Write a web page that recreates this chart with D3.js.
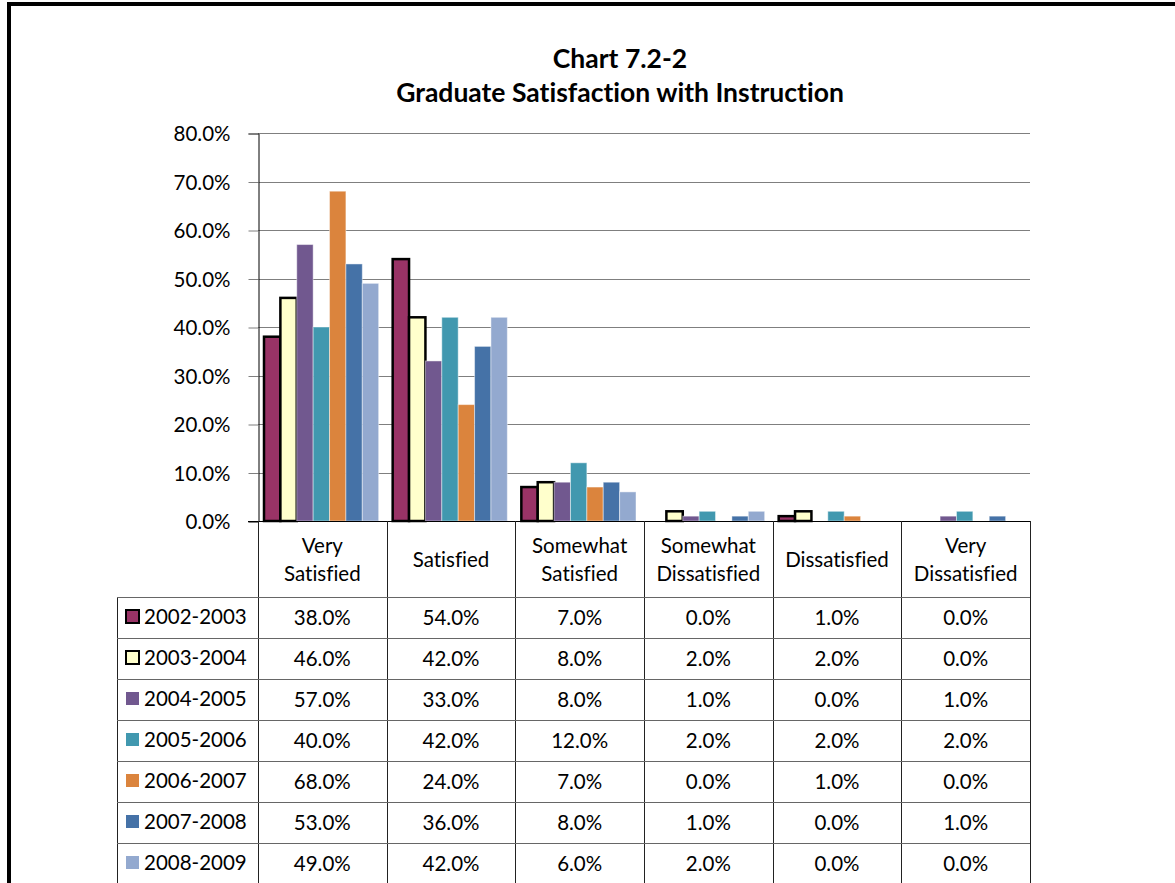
<!DOCTYPE html>
<html lang="en">
<head>
<meta charset="utf-8">
<script src="https://d3js.org/d3.v7.min.js"></script>
<style>
body { margin: 0; background: #fff; }
text { font-family: Lato, "Open Sans", sans-serif; fill: #000; font-variant-ligatures: none; }
.title { font-weight: bold; font-size: 26.5px; }
.tick-label, .cell, .head, .leg { font-size: 20.5px; }
</style>
</head>
<body>
<svg width="1175" height="883"></svg>
<script>

// categories along the x axis
var categories = ["Very Satisfied", "Satisfied", "Somewhat Satisfied",
                  "Somewhat Dissatisfied", "Dissatisfied", "Very Dissatisfied"];
var headLines = [["Very", "Satisfied"], ["Satisfied"], ["Somewhat", "Satisfied"],
                 ["Somewhat", "Dissatisfied"], ["Dissatisfied"], ["Very", "Dissatisfied"]];

// one series per school year (percent)
var years = ["2002-2003", "2003-2004", "2004-2005", "2005-2006", "2006-2007", "2007-2008", "2008-2009"];
var v0203 = [38, 54, 7, 0, 1, 0];
var v0304 = [46, 42, 8, 2, 2, 0];
var v0405 = [57, 33, 8, 1, 0, 1];
var v0506 = [40, 42, 12, 2, 2, 2];
var v0607 = [68, 24, 7, 0, 1, 0];
var v0708 = [53, 36, 8, 1, 0, 1];
var v0809 = [49, 42, 6, 2, 0, 0];
var colors = ["#993366", "#ffffcc", "#71588f", "#4198af", "#db843d", "#4572a7", "#93a9cf"];
var yTicks = [0, 10, 20, 30, 40, 50, 60, 70, 80];

var series = [v0203, v0304, v0405, v0506, v0607, v0708, v0809];

var svg = d3.select("svg");

// outer frame (runs off the page at right / bottom)
svg.append("rect")
    .attr("x", 9).attr("y", 4).attr("width", 1200).attr("height", 920)
    .attr("fill", "none").attr("stroke", "#000").attr("stroke-width", 4);

var plotLeft = 258, plotRight = 1030, plotTop = 133, base = 521;

var x0 = d3.scaleBand().domain(categories).range([plotLeft, plotRight]).padding(0);
var x1 = d3.scaleBand().domain(years).range([6, x0.bandwidth() - 8]).padding(0);
var y = d3.scaleLinear().domain([0, 80]).range([base, plotTop]);

// title
svg.append("text").attr("class", "title").attr("x", 620).attr("y", 68)
    .attr("text-anchor", "middle").text("Chart 7.2-2");
svg.append("text").attr("class", "title").attr("x", 620).attr("y", 102)
    .attr("text-anchor", "middle").text("Graduate Satisfaction with Instruction");

// gridlines
svg.append("g").selectAll("line").data(yTicks.slice(1)).join("line")
    .attr("x1", plotLeft).attr("x2", plotRight)
    .attr("y1", function(d) { return Math.round(y(d)) + 0.5; })
    .attr("y2", function(d) { return Math.round(y(d)) + 0.5; })
    .attr("stroke", "#7f7f7f").attr("stroke-width", 1);

// y axis
var yAxis = svg.append("g").attr("transform", "translate(" + (plotLeft + 0.5) + ",0.5)")
    .call(d3.axisLeft(y).tickValues(yTicks).tickSize(10).tickPadding(18)
      .tickFormat(function(d) { return d.toFixed(1) + "%"; }));
yAxis.select(".domain").attr("stroke", "#000");
yAxis.selectAll(".tick line").attr("stroke", "#7f7f7f");
yAxis.selectAll("text").attr("class", "tick-label").attr("font-size", null)
    .attr("font-family", null).attr("dy", "0.35em");

// bars
var groups = svg.append("g").selectAll("g").data(series).join("g")
    .attr("fill", function(d, i) { return colors[i]; });

groups.selectAll("rect")
    .data(function(d, i) { return d.map(function(v, j) { return { s: i, c: j, v: v }; }); })
    .join("rect")
    .attr("x", function(d) { return x0(categories[d.c]) + x1(years[d.s]); })
    .attr("width", x1.bandwidth())
    .attr("y", function(d) { return y(d.v); })
    .attr("height", function(d) { return base - y(d.v); })
    .attr("stroke", function(d) { return d.s < 2 ? "#000" : "rgba(255,255,255,0.45)"; })
    .attr("stroke-width", function(d) { return d.s < 2 ? 2.5 : 1; })
    .style("display", function(d) { return d.v === 0 && d.s >= 2 ? "none" : null; });

// data table below the plot
var headBottom = 597, rowH = 41, legLeft = 117;
var tbl = svg.append("g");

// baseline
tbl.append("line").attr("x1", 248).attr("x2", plotRight).attr("y1", base + 0.5).attr("y2", base + 0.5)
    .attr("stroke", "#000");

// vertical lines
var vx = categories.map(function(c) { return x0(c); }).concat([plotRight]);
tbl.selectAll(".v").data(vx).join("line")
    .attr("x1", function(d) { return Math.round(d) + 0.5; })
    .attr("x2", function(d) { return Math.round(d) + 0.5; })
    .attr("y1", base).attr("y2", 883)
    .attr("stroke", "#222");
tbl.append("line").attr("x1", legLeft + 0.5).attr("x2", legLeft + 0.5)
    .attr("y1", headBottom).attr("y2", 883).attr("stroke", "#222");

// horizontal lines
tbl.selectAll(".h").data(d3.range(years.length)).join("line")
    .attr("x1", legLeft).attr("x2", plotRight)
    .attr("y1", function(i) { return headBottom + i * rowH + 0.5; })
    .attr("y2", function(i) { return headBottom + i * rowH + 0.5; })
    .attr("stroke", "#666");

// header labels
headLines.forEach(function(lines, j) {
  var cx = x0(categories[j]) + x0.bandwidth() / 2;
  var t = tbl.append("text").attr("class", "head").attr("text-anchor", "middle")
      .attr("x", cx).attr("y", lines.length === 1 ? 567 : 553);
  lines.forEach(function(l, k) {
    t.append("tspan").attr("x", cx).attr("dy", k === 0 ? 0 : 28).text(l);
  });
});

// legend cells + values
years.forEach(function(yr, i) {
  var ty = headBottom + i * rowH;
  tbl.append("rect")
      .attr("x", 126).attr("y", ty + 13).attr("width", 13).attr("height", 13)
      .attr("fill", colors[i])
      .attr("stroke", i < 2 ? "#000" : "none").attr("stroke-width", 2);
  tbl.append("text").attr("class", "leg").attr("x", 144).attr("y", ty + 27).text(yr);
  series[i].forEach(function(v, j) {
    tbl.append("text").attr("class", "cell").attr("text-anchor", "middle")
        .attr("x", x0(categories[j]) + x0.bandwidth() / 2)
        .attr("y", ty + 28)
        .text(v.toFixed(1) + "%");
  });
});

</script>
</body>
</html>
